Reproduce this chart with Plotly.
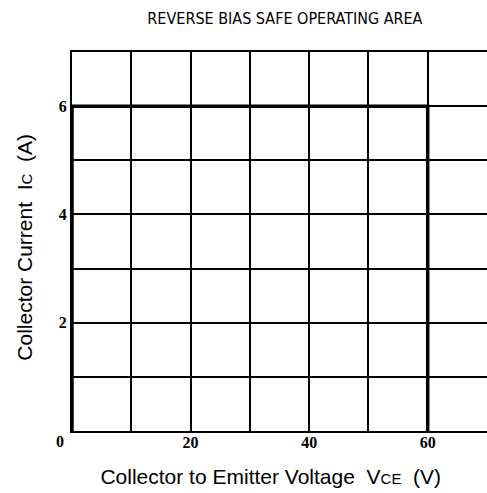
import plotly.graph_objects as go

# Data
soa_vce = [0, 0, 60, 60]        # boundary of safe operating area (V)
soa_ic = [0, 6, 6, 0]           # (A)
x_tick_vals = [20, 40, 60]
x_tick_text = ["20", "40", "60"]
y_tick_vals = [2, 4, 6]
y_tick_text = ["2", "4", "6"]
x_minor_grid = [10, 30, 50, 70]
y_minor_grid = [1, 3, 5, 7]
x_range = [0, 70]
y_range = [0, 7]

tick_font = dict(family="Liberation Serif, DejaVu Serif, serif", size=16, color="black", weight="bold")
label_font = dict(family="Liberation Sans, Arial, sans-serif", size=21, color="black")

fig = go.Figure()
fig.add_trace(go.Scatter(
    x=soa_vce, y=soa_ic, mode="lines",
    line=dict(color="black", width=3.5),
    hoverinfo="skip", showlegend=False,
))

fig.update_layout(
    width=487, height=493,
    margin=dict(l=72, r=0, t=52, b=62, autoexpand=False),
    paper_bgcolor="white", plot_bgcolor="white",
    showlegend=False,
    title=dict(
        text="REVERSE BIAS SAFE OPERATING AREA",
        font=dict(family="Liberation Sans Narrow, DejaVu Sans Condensed, Arial Narrow, sans-serif",
                  size=16, color="black"),
        x=0.585, xanchor="center", y=0.963, yanchor="middle",
    ),
    xaxis=dict(
        range=x_range,
        showgrid=True, gridcolor="black", gridwidth=2,
        showline=True, linecolor="black", linewidth=2, mirror=True,
        zeroline=False,
        tickmode="array", tickvals=x_tick_vals, ticktext=x_tick_text,
        tickfont=tick_font, ticks="", ticklabelstandoff=-4,
        title=dict(text="Collector to Emitter Voltage&nbsp; V<span style='font-size:15px'>CE</span>&nbsp;&nbsp;(V)&nbsp;&nbsp;&nbsp;",
                   font=label_font, standoff=19),
        minor=dict(tickvals=x_minor_grid, showgrid=True, gridcolor="black", gridwidth=2),
        fixedrange=True,
    ),
    yaxis=dict(
        range=y_range,
        showgrid=True, gridcolor="black", gridwidth=2,
        showline=True, linecolor="black", linewidth=2, mirror=True,
        zeroline=False,
        tickmode="array", tickvals=y_tick_vals, ticktext=y_tick_text,
        tickfont=tick_font, ticks="",
        title=dict(text="Collector Current&nbsp; I<span style='font-size:15px'>C</span>&nbsp;&nbsp;(A)&nbsp;&nbsp;",
                   font=label_font, standoff=20),
        minor=dict(tickvals=y_minor_grid, showgrid=True, gridcolor="black", gridwidth=2),
        fixedrange=True,
    ),
    annotations=[dict(
        x=0, y=0, xref="x", yref="y", text="0", showarrow=False,
        font=tick_font, xanchor="center", yanchor="middle", xshift=-12, yshift=-10,
    )],
)

fig.write_html(
    "out.html",
    config={"displayModeBar": False, "staticPlot": True},
    post_script="document.body.style.margin='0';document.body.style.overflow='hidden';",
)
